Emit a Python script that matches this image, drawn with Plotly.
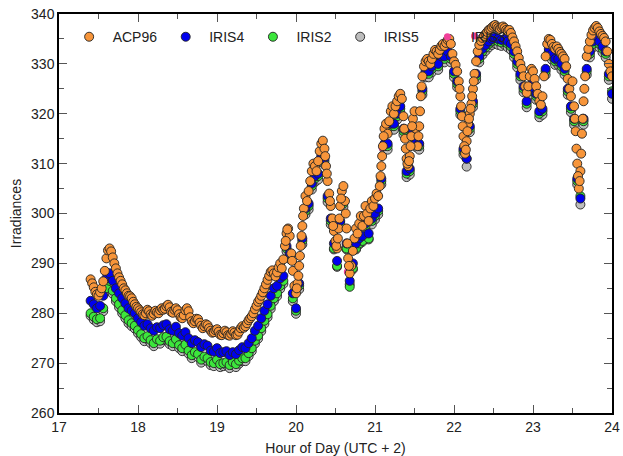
import numpy as np
import plotly.graph_objects as go

# ACP96: 17.40 .. 24.00 h, every 0.02 h
acp96 = [
286.8,286.0,285.2,284.3,283.8,283.5,284.2,285.0,286.4,288.5,
291.0,292.6,293.0,292.4,291.2,290.0,289.0,288.0,287.2,286.5,
285.8,285.0,284.6,284.0,283.5,283.4,283.0,282.3,281.8,281.3,
281.0,280.6,280.2,279.8,279.6,280.0,280.7,280.4,279.8,279.5,
279.9,280.5,280.2,280.0,280.6,281.0,280.7,280.9,281.4,281.7,
281.2,280.3,280.1,280.7,281.0,280.6,279.8,279.2,279.0,279.6,
280.6,281.0,280.4,279.2,278.4,278.0,278.4,278.9,278.8,278.1,
277.5,277.0,277.4,277.8,277.6,277.0,276.5,276.1,276.2,276.6,
276.8,276.3,275.7,275.6,276.0,276.5,276.2,275.6,275.5,275.9,
276.4,276.1,275.6,275.7,276.3,277.0,277.4,277.1,277.4,278.0,
278.6,279.0,279.4,280.0,280.8,281.5,282.3,282.8,283.5,284.2,
285.0,285.8,286.7,287.5,288.3,288.6,288.0,287.4,288.2,289.2,
290.0,289.0,290.8,293.5,296.0,297.0,295.5,292.0,288.5,285.5,
284.0,286.0,289.5,293.5,297.5,301.0,303.5,302.5,304.5,306.5,
308.5,310.0,309.5,308.5,310.5,312.5,314.0,314.6,313.0,309.5,
306.5,304.0,301.5,299.0,296.5,294.5,293.0,297.0,301.5,304.5,
305.5,302.5,297.0,291.0,288.0,289.5,292.5,295.0,297.0,296.0,
298.0,299.5,297.5,299.5,301.5,300.0,298.5,301.0,302.5,301.5,
303.0,304.0,303.5,305.5,309.5,313.5,317.0,318.0,316.0,318.5,
320.5,321.5,320.0,321.5,322.5,323.5,324.0,323.0,319.5,315.0,
311.0,309.5,311.5,315.5,319.0,320.5,317.0,313.5,317.5,323.5,
327.5,329.5,330.5,331.0,330.5,330.0,331.0,332.0,332.8,332.5,
332.0,332.8,333.6,334.0,333.6,334.2,334.8,335.0,334.0,332.0,
330.5,329.8,328.5,326.5,323.5,319.5,315.5,312.0,314.5,318.0,
320.0,322.0,325.0,328.0,330.5,332.5,333.8,334.6,335.2,335.6,
336.0,336.4,336.8,337.0,337.3,337.6,337.8,337.5,337.2,337.0,
337.3,337.5,337.2,336.8,336.6,336.8,336.2,335.3,334.5,333.5,
332.5,331.2,330.0,329.0,327.5,325.5,324.2,325.5,327.5,329.0,
328.5,327.0,325.5,324.0,322.5,321.8,323.5,327.5,331.5,334.0,
335.0,334.8,334.0,333.4,333.0,333.5,333.0,332.4,332.0,331.5,
331.0,329.5,327.0,325.0,323.5,326.5,321.5,316.5,310.0,305.0,
308.5,316.0,322.5,327.5,331.5,333.0,334.5,335.8,336.7,337.2,
337.6,337.2,336.5,336.0,335.6,335.2,334.5,332.5,330.0,328.5,
327.5]

# extra ACP96 readings inside the steep dips / rises
acp96_extra_hours = [19.87, 19.89, 19.95, 20.01, 20.03, 20.05, 20.07, 20.09,
                     20.37, 20.39, 20.43, 20.47, 20.51, 20.53, 20.55, 20.57,
                     20.63, 20.65, 20.67, 21.07, 21.09, 21.11, 21.37, 21.39,
                     21.41, 21.43, 21.45, 21.47, 21.55, 21.57, 21.59, 22.07,
                     22.09, 22.11, 22.13, 22.15, 22.17, 22.19, 22.21, 22.23,
                     22.25, 23.53, 23.55, 23.57, 23.59, 23.61, 23.63, 23.65]
acp96_extra = [294.5, 296.8, 290.5, 285.0, 287.5, 291.5, 295.5, 299.5,
               311.5, 308.0, 302.5, 297.5, 293.5, 295.0, 299.0, 303.0,
               300.0, 294.0, 289.5, 307.5, 311.5, 315.5, 317.0, 313.0,
               310.0, 310.5, 313.5, 317.5, 315.5, 320.5, 325.5, 325.0,
               321.5, 317.5, 313.5, 312.8, 316.5, 319.0, 321.0, 323.5,
               326.5, 319.0, 313.0, 307.5, 306.5, 312.0, 319.0, 325.0]

# IRIS4, IRIS2, IRIS5: 17.40 .. 24.00 h, every 0.04 h
iris4 = [
282.5,281.8,281.0,281.5,283.5,287.0,288.0,286.5,285.0,284.0,
283.0,282.0,281.0,280.5,280.0,279.0,278.2,277.5,277.8,277.0,
276.5,277.2,277.0,277.6,277.8,276.8,276.5,277.3,276.0,275.5,
276.2,275.0,274.0,274.6,274.2,273.2,273.8,273.5,272.5,272.3,
273.0,272.0,272.2,272.4,271.6,272.2,271.8,272.6,273.2,273.0,
274.0,275.0,276.5,277.5,279.0,280.5,281.8,283.5,285.0,285.5,
287.0,287.5,293.5,292.0,284.0,281.0,286.0,295.0,301.0,302.0,
306.0,307.5,308.0,311.5,311.0,303.5,299.0,294.0,290.5,298.5,
302.5,294.0,286.5,290.0,294.0,295.0,295.5,298.0,296.0,299.0,
300.0,301.0,307.0,314.0,314.0,318.0,318.0,320.0,321.5,317.0,
308.5,309.0,316.5,314.5,314.0,325.0,328.5,328.5,329.5,330.5,
330.0,331.5,331.5,332.5,331.5,328.5,326.5,321.0,313.0,311.0,
317.5,322.5,328.0,331.5,333.0,333.8,334.5,335.0,335.3,335.0,
334.8,335.0,334.5,334.0,332.5,330.5,328.0,325.5,322.5,325.0,
326.5,324.0,320.5,321.0,329.0,333.0,332.0,331.0,331.0,330.0,
329.0,325.0,321.5,319.0,307.0,303.0,319.0,329.0,332.5,334.5,
335.5,334.5,333.5,332.5,328.0,324.0]

iris2 = [
280.0,279.3,278.8,279.0,281.0,285.0,286.5,284.5,283.0,281.8,
280.6,279.6,278.6,278.0,277.5,276.6,275.8,275.0,275.4,274.6,
274.0,274.8,274.5,275.2,275.3,274.4,274.0,274.8,273.6,273.0,
273.7,272.5,271.6,272.2,271.8,270.7,271.3,271.0,270.2,270.0,
270.7,269.8,270.0,270.2,269.6,270.2,269.8,270.5,271.0,271.0,
272.0,273.0,274.5,275.5,277.0,278.5,279.8,281.5,283.0,284.0,
285.5,286.5,293.0,291.5,283.0,280.5,285.5,294.5,300.5,301.5,
305.5,307.0,307.5,311.0,310.5,303.0,298.5,293.0,289.5,298.0,
302.0,293.0,285.3,289.0,293.0,294.0,294.5,297.5,295.0,298.5,
299.5,300.5,306.5,313.5,313.5,317.5,317.5,319.5,321.0,316.5,
308.0,308.5,316.0,314.0,313.5,324.5,328.0,328.0,329.0,330.0,
329.5,331.0,331.0,332.0,331.0,328.0,326.0,320.5,312.5,311.0,
317.0,322.0,327.5,331.0,332.5,333.3,334.0,334.5,334.8,334.5,
334.3,334.5,334.0,333.5,332.0,330.0,327.5,325.0,322.0,324.5,
326.0,323.5,320.0,320.5,328.5,332.5,331.5,330.5,330.5,329.5,
328.5,324.5,321.0,318.5,306.5,303.5,318.5,328.5,332.0,334.0,
335.0,334.0,333.0,332.0,327.5,324.5]

iris5 = [
279.5,278.7,278.2,278.4,280.4,284.4,285.9,283.9,282.4,281.2,
280.0,279.0,278.0,277.4,276.9,276.0,275.2,274.4,274.8,274.0,
273.4,274.2,273.9,274.6,274.7,273.8,273.4,274.2,273.0,272.4,
273.1,271.9,271.0,271.6,271.2,270.1,270.7,270.4,269.6,269.4,
270.1,269.2,269.4,269.6,269.0,269.6,269.2,269.9,270.4,270.4,
271.4,272.4,273.9,274.9,276.4,277.9,279.2,280.9,282.4,283.4,
284.9,285.9,292.4,290.9,282.4,279.9,284.8,293.8,299.8,300.8,
304.8,306.3,306.8,310.3,309.8,302.3,297.8,292.8,289.3,297.3,
301.3,292.8,285.8,288.8,292.8,293.8,294.3,296.8,294.8,297.8,
298.8,299.8,305.8,312.8,312.8,316.8,316.8,318.8,320.3,315.8,
307.3,307.8,315.3,313.3,312.8,323.8,327.3,327.3,328.3,329.3,
328.8,330.3,330.3,331.3,330.3,327.3,325.3,319.8,311.8,309.4,
316.3,321.3,326.8,330.3,331.8,332.6,333.3,333.8,334.1,333.8,
333.6,333.8,333.3,332.8,331.3,329.3,326.8,324.3,321.3,323.8,
325.3,322.8,319.3,319.8,327.8,331.8,330.8,329.8,329.8,328.8,
327.8,323.8,320.3,317.8,305.8,301.8,317.8,327.8,331.3,333.3,
334.3,333.3,332.3,331.3,326.8,323.0]

iris3_hours = [20.65, 21.06, 21.09, 22.26, 23.99]
iris3 = [288.3, 305.4, 313.2, 335.6, 329.5]

h_acp = list(np.linspace(17.4, 24.0, len(acp96))) + acp96_extra_hours
v_acp = acp96 + acp96_extra
h4 = np.linspace(17.4, 24.0, len(iris4))
h2 = np.linspace(17.4, 24.0, len(iris2))
h5 = np.linspace(17.4, 24.0, len(iris5))

edge = dict(color="#222222", width=0.9)
fig = go.Figure()
fig.add_trace(go.Scatter(x=h5, y=iris5, mode="markers", name="IRIS5", legendrank=4,
                         marker=dict(size=9, color="#BDBDBD", line=edge)))
fig.add_trace(go.Scatter(x=h2, y=iris2, mode="markers", name="IRIS2", legendrank=3,
                         marker=dict(size=9, color="#3CE63C", line=edge)))
fig.add_trace(go.Scatter(x=h4, y=iris4, mode="markers", name="IRIS4", legendrank=2,
                         marker=dict(size=9, color="#0000EE", line=edge)))
fig.add_trace(go.Scatter(x=iris3_hours, y=iris3, mode="markers", name="IRIS3", legendrank=5,
                         marker=dict(size=7, color="#F0409A", line=dict(color="#F0409A", width=0))))
fig.add_trace(go.Scatter(x=h_acp, y=v_acp, mode="markers", name="ACP96", legendrank=1,
                         marker=dict(size=9, color="#F7953A", line=edge)))

fnt = dict(family="Liberation Sans, Arial, sans-serif", size=14, color="#222222")
fig.update_layout(
    width=623, height=456,
    margin=dict(l=59, r=11, t=14, b=43, autoexpand=False),
    paper_bgcolor="white", plot_bgcolor="white",
    font=fnt,
    showlegend=True,
    legend=dict(orientation="h", x=0.012, y=0.942, xanchor="left", yanchor="middle",
                bgcolor="rgba(0,0,0,0)", font=fnt, itemwidth=37, tracegroupgap=0),
)
fig.update_xaxes(range=[17, 24], dtick=1, tick0=17, showgrid=False, zeroline=False,
                 showline=True, linecolor="black", linewidth=1.5, mirror="ticks",
                 ticks="inside", ticklen=8, tickcolor="#555", tickwidth=1,
                 minor=dict(dtick=0.5, ticks="inside", ticklen=5, tickcolor="#555", showgrid=False),
                 title=dict(text="Hour of Day (UTC + 2)", font=fnt, standoff=10),
                 tickfont=fnt, automargin=False, ticklabeloverflow="allow")
fig.update_yaxes(range=[260, 340], dtick=10, tick0=260, showgrid=False, zeroline=False,
                 showline=True, linecolor="black", linewidth=1.5, mirror="ticks",
                 ticks="inside", ticklen=8, tickcolor="#555", tickwidth=1,
                 minor=dict(dtick=5, ticks="inside", ticklen=5, tickcolor="#555", showgrid=False),
                 title=dict(text="Irradiances", font=fnt, standoff=6),
                 tickfont=fnt, automargin=False, ticklabeloverflow="allow")
fig.write_html("out.html", config={"displayModeBar": False},
               post_script="document.body.style.margin='0px';")
